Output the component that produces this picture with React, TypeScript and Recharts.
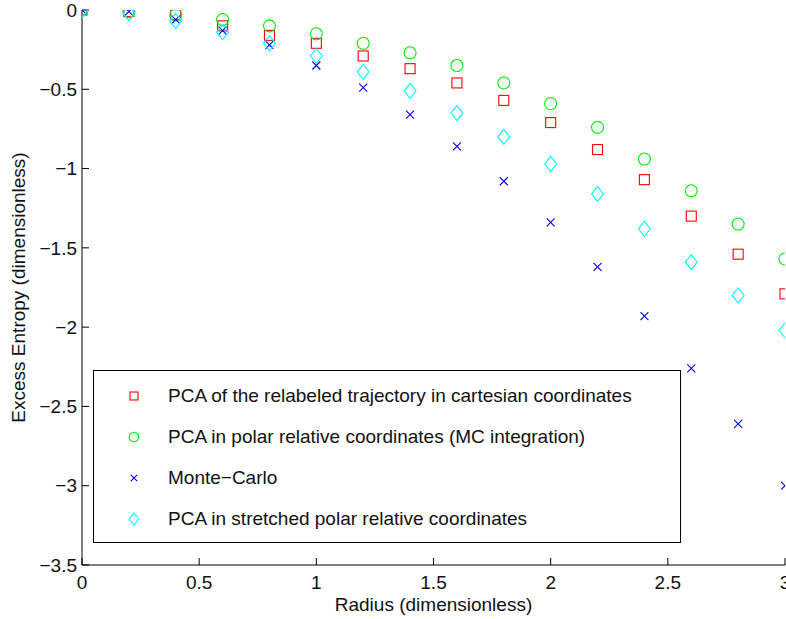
import React from 'react'
import { ScatterChart, Scatter, XAxis, YAxis } from 'recharts'

// radius values (x) and excess entropy for each method
const radius = [0, 0.2, 0.4, 0.6, 0.8, 1.0, 1.2, 1.4, 1.6, 1.8, 2.0, 2.2, 2.4, 2.6, 2.8, 3.0]
const pcaCartesian = [0, -0.01, -0.03, -0.1, -0.16, -0.21, -0.29, -0.37, -0.46, -0.57, -0.71, -0.88, -1.07, -1.3, -1.54, -1.79]
const pcaPolar = [0, -0.01, -0.03, -0.06, -0.1, -0.15, -0.21, -0.27, -0.35, -0.46, -0.59, -0.74, -0.94, -1.14, -1.35, -1.57]
const monteCarlo = [0, -0.01, -0.06, -0.13, -0.22, -0.35, -0.49, -0.66, -0.86, -1.08, -1.34, -1.62, -1.93, -2.26, -2.61, -3.0]
const pcaStretched = [0, -0.02, -0.07, -0.14, -0.21, -0.29, -0.39, -0.51, -0.65, -0.8, -0.97, -1.16, -1.38, -1.59, -1.8, -2.02]

const xTicks = [0, 0.5, 1, 1.5, 2, 2.5, 3]
const yTicks = [0, -0.5, -1, -1.5, -2, -2.5, -3, -3.5]

const FONT = '"Liberation Sans", Arial, Helvetica, sans-serif'
const FS = 19

const toPoints = (ys: number[]) => radius.map((r, i) => ({ r, v: ys[i] }))

const fmt = (v: number) => String(v).replace('-', '\u2212')

type Marker = 'square' | 'circle' | 'cross' | 'diamond'

function MarkerGlyph({ kind, cx, cy, color, scale = 1 }: { kind: Marker; cx: number; cy: number; color: string; scale?: number }) {
  const common = { fill: 'none', stroke: color, strokeWidth: 1.1 }
  if (kind === 'square') {
    const s = 5 * scale
    return <rect x={cx - s} y={cy - s} width={2 * s} height={2 * s} {...common} />
  }
  if (kind === 'circle') {
    return <circle cx={cx} cy={cy} r={6 * scale} {...common} />
  }
  if (kind === 'cross') {
    const s = 4 * scale
    return <path d={`M${cx - s},${cy - s}L${cx + s},${cy + s}M${cx - s},${cy + s}L${cx + s},${cy - s}`} {...common} />
  }
  const w = 6 * scale
  const h = 7.5 * scale
  return <path d={`M${cx},${cy - h}L${cx + w},${cy}L${cx},${cy + h}L${cx - w},${cy}Z`} {...common} />
}

const series: { name: string; data: number[]; color: string; kind: Marker }[] = [
  { name: 'PCA of the relabeled trajectory in cartesian coordinates', data: pcaCartesian, color: '#ff0000', kind: 'square' },
  { name: 'PCA in polar relative coordinates (MC integration)', data: pcaPolar, color: '#00ee00', kind: 'circle' },
  { name: 'Monte\u2212Carlo', data: monteCarlo, color: '#0000ff', kind: 'cross' },
  { name: 'PCA in stretched polar relative coordinates', data: pcaStretched, color: '#00ffff', kind: 'diamond' },
]

function LegendBox() {
  return (
    <div
      style={{
        position: 'absolute',
        left: 93,
        top: 370,
        border: '1.5px solid #000',
        background: '#fff',
        width: 588,
        height: 173,
        boxSizing: 'border-box',
        paddingTop: 4,
        fontFamily: FONT,
        fontSize: FS,
        color: '#111',
      }}
    >
      {series.map((s) => (
        <div key={s.name} style={{ display: 'flex', alignItems: 'center', height: 41 }}>
          <svg width={74} height={30} style={{ flex: 'none' }}>
            <MarkerGlyph kind={s.kind} cx={40} cy={15} color={s.color} scale={0.8} />
          </svg>
          <span>{s.name}</span>
        </div>
      ))}
    </div>
  )
}

function YLabel({ viewBox }: any) {
  const cx = 18
  const cy = viewBox.y + viewBox.height / 2
  return (
    <text x={cx} y={cy} transform={`rotate(-90 ${cx} ${cy})`} textAnchor="middle" dominantBaseline="central"
      fontFamily={FONT} fontSize={FS} fill="#111">
      Excess Entropy (dimensionless)
    </text>
  )
}

function XLabel({ viewBox }: any) {
  const cx = viewBox.x + viewBox.width / 2
  return (
    <text x={cx} y={611} textAnchor="middle" fontFamily={FONT} fontSize={FS} fill="#111">
      Radius (dimensionless)
    </text>
  )
}

export default function App() {
  const tickStyle = { fontFamily: FONT, fontSize: FS, fill: '#111' }
  return (
    <div style={{ position: 'absolute', left: 0, top: 0, width: 786, height: 619, background: '#fff' }}>
      <ScatterChart width={786} height={619} margin={{ top: 10, right: 1, bottom: 0, left: 0 }}>
        <XAxis
          type="number" dataKey="r" domain={[0, 3]} ticks={xTicks} height={54}
          allowDataOverflow stroke="#000" tickSize={-7} tickMargin={18}
          tick={tickStyle} tickFormatter={fmt} interval={0}
          label={{ content: <XLabel /> }}
        />
        <XAxis
          xAxisId="top" orientation="top" mirror type="number" domain={[0, 3]} ticks={xTicks}
          height={0} stroke="#000" tick={false} tickSize={7} allowDataOverflow
        />
        <YAxis
          type="number" dataKey="v" domain={[-3.5, 0]} ticks={yTicks} width={82}
          allowDataOverflow stroke="#000" tickSize={-7} tickMargin={12}
          tick={tickStyle} tickFormatter={fmt} interval={0}
          label={{ content: <YLabel /> }}
        />
        <YAxis
          yAxisId="right" orientation="right" mirror type="number" domain={[-3.5, 0]} ticks={yTicks}
          width={0} stroke="#000" tick={false} tickSize={7} allowDataOverflow
        />
        {series.map((s) => (
          <Scatter
            key={s.name}
            name={s.name}
            data={toPoints(s.data)}
            isAnimationActive={false}
            shape={(p: any) => <MarkerGlyph kind={s.kind} cx={p.cx} cy={p.cy} color={s.color} />}
          />
        ))}
      </ScatterChart>
      <LegendBox />
    </div>
  )
}
